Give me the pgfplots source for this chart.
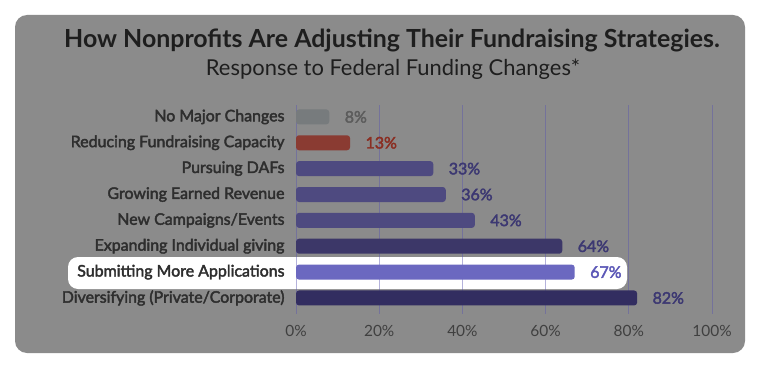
\documentclass[border=0pt]{standalone}
\usepackage{pgfplots}
\pgfplotsset{compat=1.18}
\usepackage{fontspec}
\setmainfont{Lato}
\newfontfamily\semib{Lato}[FakeBold=2.5]
\definecolor{bgcard}{HTML}{8B8B8B}
\definecolor{titlec}{HTML}{1E1E1E}
\definecolor{labc}{HTML}{2E2E2E}
\definecolor{tickc}{HTML}{404040}
\definecolor{bgray}{HTML}{777B7D}
\definecolor{bred}{HTML}{8A3B32}
\definecolor{bmid}{HTML}{4E4A80}
\definecolor{bdark}{HTML}{3C3768}
\definecolor{bhl}{HTML}{6B68C0}
\definecolor{bdarkest}{HTML}{322D60}
\definecolor{lgray}{HTML}{5C5C5C}
\definecolor{lred}{HTML}{8A2E22}
\definecolor{lmid}{HTML}{3C3872}
\definecolor{lhl}{HTML}{5B57B7}
\definecolor{gridc}{HTML}{5A55B0}
\begin{document}
\begin{tikzpicture}[x=1bp,y=1bp]
\fill[white] (0,0) rectangle (760,369);
\fill[bgcard, rounded corners=12bp] (15,16) rectangle (745,354);
\node[text=titlec, font=\fontsize{25}{30}\selectfont\bfseries] at (392,329) {How Nonprofits Are Adjusting Their Fundraising Strategies.};
\node[text=titlec, font=\fontsize{22}{26}\selectfont] at (393,300) {Response to Federal Funding Changes*};
\fill[white, rounded corners=10bp] (68,80) rectangle (627,112);
\begin{axis}[
  at={(296bp,55bp)}, anchor=south west,
  scale only axis, width=416bp, height=209bp,
  xmin=0, xmax=100, ymin=-0.46, ymax=7.62, y dir=reverse,
  xbar, bar width=15bp, bar shift=0pt,
  axis line style={draw=none}, major tick length=0pt,
  /pgf/number format/assume math mode=true,
  xtick={0,20,40,60,80,100},
  xticklabels={0\%,20\%,40\%,60\%,80\%,100\%},
  xmajorgrids, grid style={gridc, opacity=0.45, line width=0.8bp},
  ytick={0,...,7},
  yticklabels={No Major Changes, Reducing Fundraising Capacity, Pursuing DAFs, Growing Earned Revenue, New Campaigns/Events, Expanding Individual giving, Submitting More Applications, Diversifying (Private/Corporate)},
  yticklabel style={font=\fontsize{16}{19}\selectfont\semib, text=labc, xshift=-8bp},
  xticklabel style={font=\fontsize{15.5}{18}\selectfont, text=tickc, yshift=-7.5bp},
  point meta=x,
  nodes near coords={\pgfmathprintnumber{\pgfplotspointmeta}\%},
  every node near coord/.append style={font=\fontsize{16}{19}\selectfont\semib, anchor=west, xshift=12bp},
  clip=false,
]
\addplot[fill=bgray, draw=none, rounded corners=3bp, every node near coord/.append style={text=lgray}] coordinates {(8,0)};
\addplot[fill=bred, draw=none, rounded corners=3bp, every node near coord/.append style={text=lred}] coordinates {(13,1)};
\addplot[fill=bmid, draw=none, rounded corners=3bp, every node near coord/.append style={text=lmid}] coordinates {(33,2)};
\addplot[fill=bmid, draw=none, rounded corners=3bp, every node near coord/.append style={text=lmid}] coordinates {(36,3)};
\addplot[fill=bmid, draw=none, rounded corners=3bp, every node near coord/.append style={text=lmid}] coordinates {(43,4)};
\addplot[fill=bdark, draw=none, rounded corners=3bp, every node near coord/.append style={text=lmid}] coordinates {(64,5)};
\addplot[fill=bhl, draw=none, rounded corners=3bp, every node near coord/.append style={text=lhl}] coordinates {(67,6)};
\addplot[fill=bdarkest, draw=none, rounded corners=3bp, every node near coord/.append style={text=lmid}] coordinates {(82,7)};
\end{axis}
\end{tikzpicture}
\end{document}
